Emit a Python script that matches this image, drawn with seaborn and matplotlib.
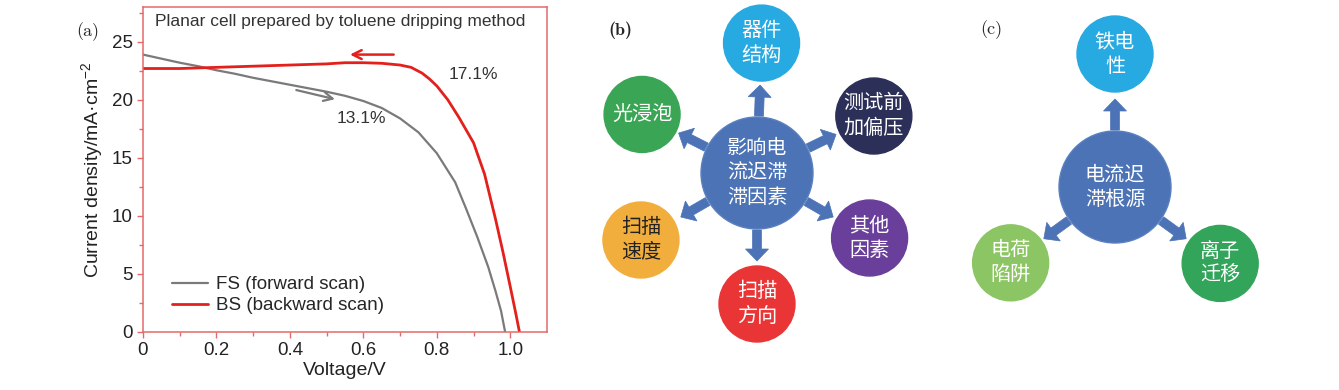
import numpy as np
import pandas as pd
import matplotlib
matplotlib.use("Agg")
import matplotlib.pyplot as plt
from matplotlib.patches import Circle, FancyArrow
from matplotlib.lines import Line2D
import seaborn as sns

# ---------------- data ----------------
v_fs = [0, 0.05, 0.1, 0.15, 0.2, 0.25, 0.3, 0.35, 0.4, 0.45, 0.5, 0.55, 0.6, 0.65,
        0.7, 0.75, 0.8, 0.85, 0.88, 0.91, 0.94, 0.96, 0.975, 0.986]
j_fs = [23.9, 23.55, 23.2, 22.9, 22.55, 22.25, 21.9, 21.6, 21.3, 21.0, 20.7, 20.35,
        19.9, 19.3, 18.4, 17.2, 15.4, 12.9, 10.6, 8.2, 5.6, 3.5, 1.8, 0]
v_bs = [0, 0.1, 0.2, 0.3, 0.4, 0.5, 0.55, 0.6, 0.65, 0.7, 0.73, 0.76, 0.78, 0.8,
        0.83, 0.86, 0.9, 0.93, 0.96, 0.98, 1.0, 1.015, 1.025]
j_bs = [22.7, 22.7, 22.8, 22.9, 23.0, 23.1, 23.2, 23.2, 23.15, 23.0, 22.8, 22.3,
        21.8, 21.2, 20.0, 18.5, 16.3, 13.6, 9.7, 6.9, 3.9, 1.6, 0]
series_labels = ["FS (forward scan)", "BS (backward scan)"]
pce_labels = ["13.1%", "17.1%"]
title_a = "Planar cell prepared by toluene dripping method"

b_center = "影响电\n流迟滞\n滞因素"
b_items = ["器件\n结构", "测试前\n加偏压", "其他\n因素", "扫描\n方向", "扫描\n速度", "光浸泡"]
b_colors = ["#27a9e1", "#2c2f58", "#6a3f9b", "#e93535", "#f2ae3d", "#3aa655"]
b_text_colors = ["white", "white", "white", "white", "#222222", "white"]

c_center = "电流迟\n滞根源"
c_items = ["铁电\n性", "电荷\n陷阱", "离子\n迁移"]
c_colors = ["#27a9e1", "#8cc563", "#33a55a"]

# ---------------- style ----------------
sns.set_style("ticks")
plt.rcParams["font.family"] = ["Liberation Sans", "Noto Sans CJK SC", "DejaVu Sans"]
plt.rcParams["mathtext.fontset"] = "custom"
plt.rcParams["mathtext.rm"] = "Liberation Sans"
plt.rcParams["mathtext.it"] = "Liberation Sans:italic"

W, H = 1339, 390
fig = plt.figure(figsize=(W / 100, H / 100), dpi=100)

# ---------------- panel (a) ----------------
ax = fig.add_axes([143 / W, 1 - 332 / H, (547 - 143) / W, (332 - 7) / H])
df = pd.concat([
    pd.DataFrame({"V": v_fs, "J": j_fs, "scan": series_labels[0]}),
    pd.DataFrame({"V": v_bs, "J": j_bs, "scan": series_labels[1]}),
])
pal = {series_labels[0]: "#7a7a7a", series_labels[1]: "#e3201c"}
sns.lineplot(data=df[df.scan == series_labels[0]], x="V", y="J", color=pal[series_labels[0]],
             lw=1.6, sort=False, ax=ax, legend=False)
sns.lineplot(data=df[df.scan == series_labels[1]], x="V", y="J", color=pal[series_labels[1]],
             lw=2.0, sort=False, ax=ax, legend=False)
ax.set_xlim(0, 1.1)
ax.set_ylim(0, 28)
spine_c = "#e46a6a"
for s in ax.spines.values():
    s.set_color(spine_c)
    s.set_linewidth(1.1)
ax.set_xticks([0, 0.2, 0.4, 0.6, 0.8, 1.0])
ax.set_xticklabels(["0", "0.2", "0.4", "0.6", "0.8", "1.0"])
ax.set_xticks(np.arange(0.1, 1.1, 0.2), minor=True)
ax.set_yticks([0, 5, 10, 15, 20, 25])
ax.set_yticks(np.arange(2.5, 28, 5), minor=True)
ax.tick_params(which="both", color=spine_c, labelcolor="#222222", labelsize=13.5, direction="out")
ax.tick_params(which="major", length=4, width=1)
ax.tick_params(which="minor", length=3, width=1)
ax.set_xlabel("Voltage/V", fontsize=14, color="#222222", labelpad=2)
ax.set_ylabel("Current density/mA·cm$^{-2}$", fontsize=14, color="#222222")
ax.yaxis.set_label_coords(-0.093, 0.5)

ax.text(0.033, 26.75, title_a, fontsize=12.5, color="#333333", ha="left", va="center")
ax.text(0.595, 18.4, pce_labels[0], fontsize=12.5, color="#333333", ha="center", va="center")
ax.text(0.899, 22.2, pce_labels[1], fontsize=12.5, color="#333333", ha="center", va="center")
ax.annotate("", xy=(0.556, 23.9), xytext=(0.69, 23.9),
            arrowprops=dict(arrowstyle="->", color="#e3201c", lw=1.8, mutation_scale=16))
ax.annotate("", xy=(0.53, 20.0), xytext=(0.41, 20.9),
            arrowprops=dict(arrowstyle="->", color="#7a7a7a", lw=1.6, mutation_scale=16))
handles = [Line2D([], [], color=pal[l], lw=1.6 if i == 0 else 2.0) for i, l in enumerate(series_labels)]
ax.legend(handles, series_labels, loc="lower left", bbox_to_anchor=(0.045, 0.02),
          frameon=False, fontsize=13.5, handlelength=1.9, handletextpad=0.4,
          labelspacing=0.2, borderaxespad=0.2)

# ---------------- overlay for (b) and (c) ----------------
ov = fig.add_axes([0, 0, 1, 1])
ov.set_xlim(0, W)
ov.set_ylim(H, 0)
ov.axis("off")
ov.patch.set_visible(False)

fig.text(88 / W, 1 - 32 / H, "(a)", family="cmr10", fontsize=13, ha="center", va="center")
fig.text(620 / W, 1 - 30 / H, "(b)", family="cmb10", fontsize=13, ha="center", va="center")
fig.text(991 / W, 1 - 30 / H, "(c)", family="cmr10", fontsize=13, ha="center", va="center")

hub_color = "#4b73b6"
R_HUB, R_SAT = 56, 38


def hub(cx, cy, text, items, colors, tcolors, angles, dists):
    for txt, col, tc, a, d in zip(items, colors, tcolors, angles, dists):
        ux, uy = np.cos(np.radians(a)), -np.sin(np.radians(a))
        sx, sy = cx + d * ux, cy + d * uy
        ov.add_patch(Circle((sx, sy), R_SAT, facecolor=col, edgecolor=col, lw=1, zorder=2))
        ov.text(sx, sy, txt, color=tc, fontsize=14.5, ha="center", va="center",
                linespacing=1.2, family=["Noto Sans CJK SC"], zorder=4)
        x0, y0 = cx + 57 * ux, cy + 57 * uy
        ov.add_patch(FancyArrow(x0, y0, 31 * ux, 31 * uy, width=9, head_width=23,
                                head_length=12, length_includes_head=True,
                                facecolor=hub_color, edgecolor=hub_color, lw=0.5, zorder=1))
    ov.add_patch(Circle((cx, cy), R_HUB, facecolor=hub_color, edgecolor="#5a80c0", lw=1, zorder=3))
    ov.text(cx, cy, text, color="white", fontsize=14.5, ha="center", va="center",
            linespacing=1.2, family=["Noto Sans CJK SC"], zorder=4)


hub(757, 173, b_center, b_items, b_colors, b_text_colors,
    [88, 26, -30, -90, -150, 153], [130, 130, 130, 131, 134, 129])
hub(1115, 187, c_center, c_items, c_colors, ["white"] * 3,
    [90, -144, -36], [133, 129, 130])

fig.savefig("out.png", dpi=100)
